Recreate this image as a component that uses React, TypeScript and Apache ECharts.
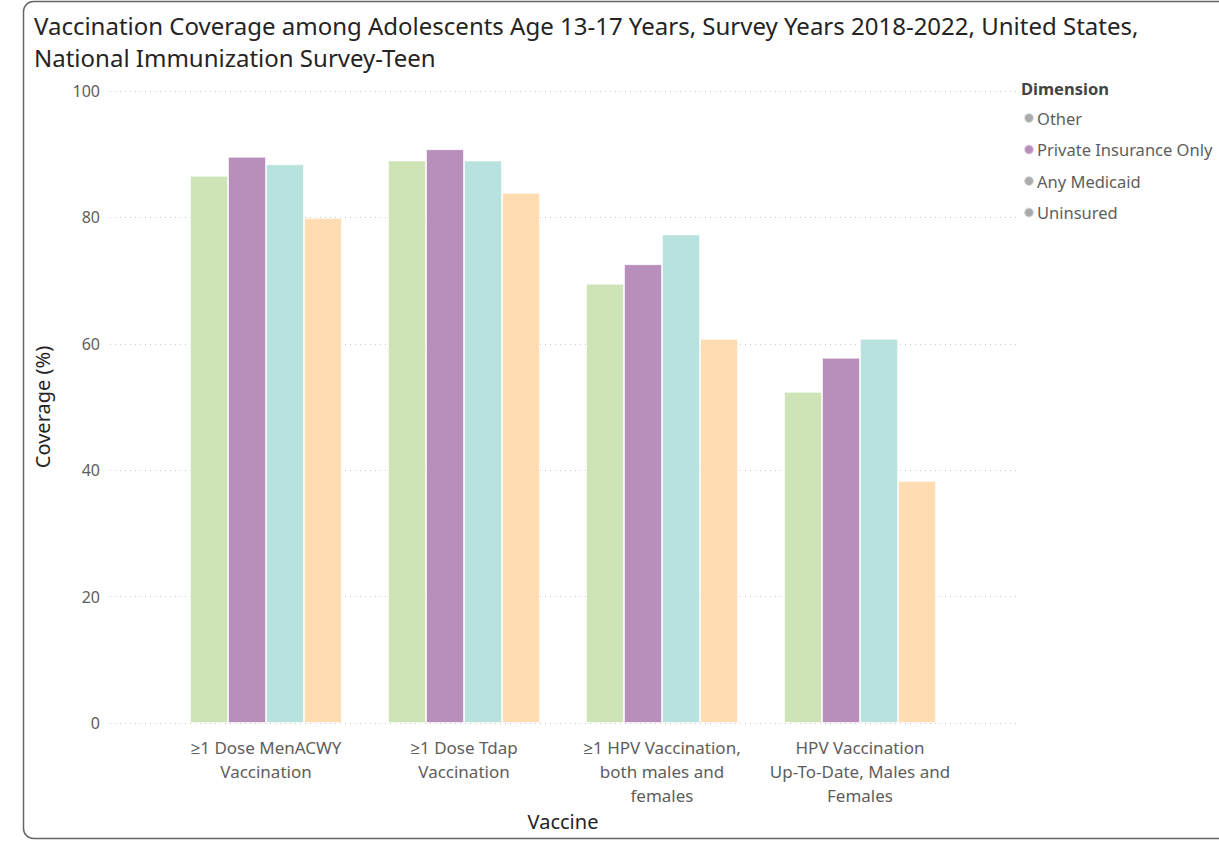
import React, { useEffect, useRef } from "react";
import * as echarts from "echarts";

const categories = [
  "≥1 Dose MenACWY\nVaccination",
  "≥1 Dose Tdap\nVaccination",
  "≥1 HPV Vaccination,\nboth males and\nfemales",
  "HPV Vaccination\nUp-To-Date, Males and\nFemales",
];
const seriesNames = ["Other", "Private Insurance Only", "Any Medicaid", "Uninsured"];
const otherValues = [86.6, 89.0, 69.5, 52.4];
const privateValues = [89.6, 90.8, 72.6, 57.8];
const medicaidValues = [88.4, 89.0, 77.3, 60.8];
const uninsuredValues = [79.9, 83.9, 60.8, 38.3];
const yTicks = [0, 20, 40, 60, 80, 100];

const barColors = ["#CEE3B6", "#B88EBA", "#B8E2DE", "#FFDCB1"];
const legendColors = ["#ABABAB", "#B88EBA", "#ABABAB", "#ABABAB"];
const FONT = "'Noto Sans', 'Open Sans', sans-serif";

export default function App() {
  const ref = useRef<HTMLDivElement>(null);
  useEffect(() => {
    document.body.style.margin = "0";
    const chart = echarts.init(ref.current!, null, { renderer: "svg" });
    const values = [otherValues, privateValues, medicaidValues, uninsuredValues];
    chart.setOption({
      animation: false,
      textStyle: { fontFamily: FONT },
      graphic: [
        {
          type: "rect",
          shape: { x: 23.5, y: 1.5, width: 1230, height: 837, r: 10 },
          style: { fill: "none", stroke: "#666", lineWidth: 1.5 },
          silent: true,
        },
        {
          type: "text",
          left: 34,
          top: 9,
          style: {
            text: "Vaccination Coverage among Adolescents Age 13-17 Years, Survey Years 2018-2022, United States,\nNational Immunization Survey-Teen",
            fontSize: 24,
            lineHeight: 32,
            fill: "#252423",
            fontFamily: FONT,
          },
        },
        {
          type: "text",
          left: 1021,
          top: 80,
          style: {
            text: "Dimension",
            fontSize: 16.5,
            fontWeight: "bold",
            fill: "#444",
            fontFamily: FONT,
          },
        },
      ],
      legend: {
        orient: "vertical",
        left: 1018,
        top: 103,
        icon: "circle",
        itemWidth: 10,
        itemHeight: 10,
        itemGap: 11.5,
        textStyle: { fontSize: 16.5, color: "#605E5C", lineHeight: 20, fontFamily: FONT, padding: [0, 0, 0, -2] },
        data: seriesNames.map((n, i) => ({ name: n, itemStyle: { color: legendColors[i] } })),
      },
      grid: [
        { left: 167, right: 260, top: 91, bottom: 119 },
        { left: 110, right: 199, top: 91, bottom: 119 },
      ],
      xAxis: [
        {
          type: "category",
          gridIndex: 0,
          data: categories,
          axisLine: { show: false },
          axisTick: { show: false },
          axisLabel: { interval: 0, fontSize: 17, color: "#605E5C", lineHeight: 24, margin: 12, fontFamily: FONT },
          name: "Vaccine",
          nameLocation: "middle",
          nameGap: 87,
          nameTextStyle: { fontSize: 20, color: "#252423", fontFamily: FONT },
        },
        { type: "value", gridIndex: 1, show: false, min: 0, max: 1 },
      ],
      yAxis: [
        {
          type: "value",
          gridIndex: 0,
          min: 0,
          max: 100,
          interval: 20,
          show: false,
        },
        {
          type: "value",
          gridIndex: 1,
          min: yTicks[0],
          max: yTicks[yTicks.length - 1],
          interval: 20,
          axisLine: { show: false },
          axisTick: { show: false },
          axisLabel: { fontSize: 16, color: "#605E5C", margin: 10, fontFamily: FONT },
          splitLine: { lineStyle: { type: [1, 4], color: "#C8C8C8", width: 1 } },
          name: "Coverage (%)",
          nameLocation: "middle",
          nameRotate: 90,
          nameGap: 58,
          nameTextStyle: { fontSize: 20, color: "#252423", fontFamily: FONT },
        },
      ],
      series: seriesNames.map((n, i) => ({
        name: n,
        type: "bar",
        xAxisIndex: 0,
        yAxisIndex: 0,
        data: values[i],
        barWidth: 38,
        barGap: "0%",
        itemStyle: { color: barColors[i], borderColor: "rgba(255,255,255,0.6)", borderWidth: 1 },
      })),
    });
    return () => chart.dispose();
  }, []);
  return <div ref={ref} style={{ width: 1219, height: 842 }} />;
}
